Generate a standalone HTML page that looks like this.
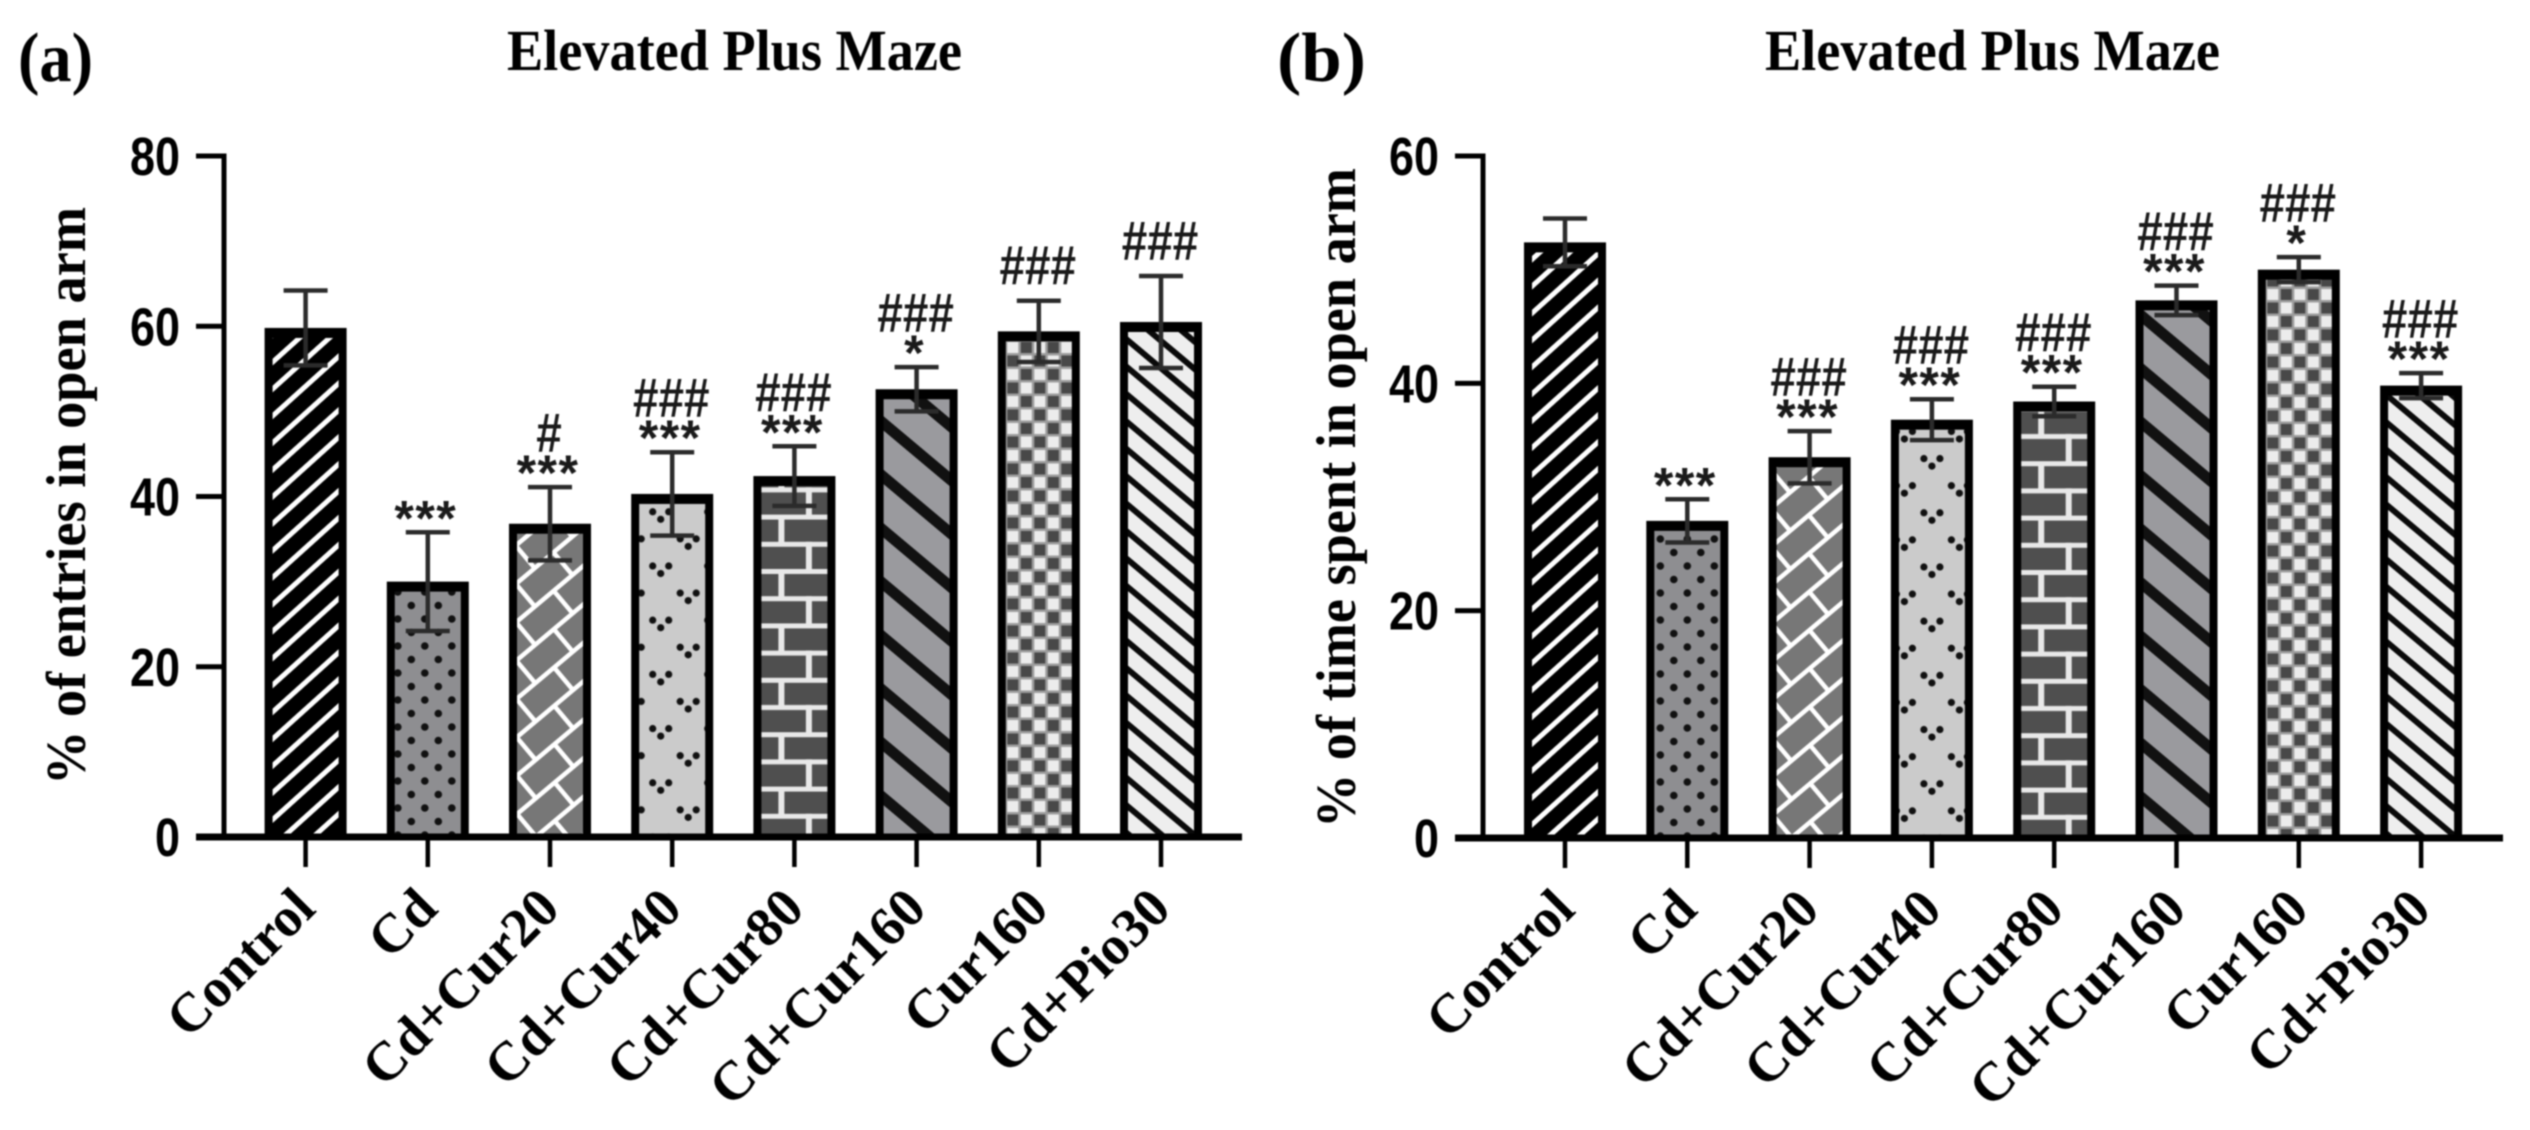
<!DOCTYPE html>
<html lang="en">
<head>
<meta charset="utf-8">
<title>Elevated Plus Maze</title>
<style>
html,body{margin:0;padding:0;background:#fff;width:2530px;height:1130px;overflow:hidden}
svg{display:block;filter:blur(0.7px)}
</style>
</head>
<body>
<svg id="figure" xmlns="http://www.w3.org/2000/svg" width="2530" height="1130" viewBox="0 0 2530 1130">
  <rect width="2530" height="1130" fill="#fff"/>
  <defs id="defs"></defs>
</svg>
<script>
const categories = ['Control','Cd','Cd+Cur20','Cd+Cur40','Cd+Cur80','Cd+Cur160','Cur160','Cd+Pio30'];
const valuesA = [59.8,30.0,36.8,40.3,42.4,52.6,59.4,60.5];
const errorsA = [4.4,5.8,4.3,4.9,3.5,2.6,3.6,5.4];
const starsA  = ['','***','***','***','***','*','',''];
const hashesA = ['','','#','###','###','###','###','###'];
const ticksA  = [0,20,40,60,80];
const valuesB = [52.4,27.9,33.5,36.8,38.4,47.3,50.0,39.8];
const errorsB = [2.1,1.9,2.3,1.8,1.3,1.3,1.1,1.1];
const starsB  = ['','***','***','***','***','***','*','***'];
const hashesB = ['','','###','###','###','###','###','###'];
const ticksB  = [0,20,40,60];

const NS = 'http://www.w3.org/2000/svg';
const svg = document.getElementById('figure');
const defs = document.getElementById('defs');
function make(tag, attrs, parent, text){
  const el = document.createElementNS(NS, tag);
  for (const k in attrs) el.setAttribute(k, attrs[k]);
  if (text !== undefined) el.textContent = text;
  (parent || svg).appendChild(el);
  return el;
}
function slug(s){ return s.toLowerCase().replace(/\+/g,'-'); }

function stripes(p, bg, fg, w){
  make('rect',{width:100,height:100,fill:bg},p);
  make('rect',{x:0,y:0,width:100,height:w,fill:fg},p);
}
function buildPattern(id, kind, cx, y0, panel){
  const p = make('pattern',{id:id,patternUnits:'userSpaceOnUse'},defs);
  function setup(w,h,tf){ p.setAttribute('width',w); p.setAttribute('height',h); p.setAttribute('patternTransform',tf); }
  if (kind === 0){
    setup(100,20,`translate(${cx},${y0+(panel===0?3.4:7.3)}) rotate(-42)`);
    stripes(p,'#000','#fff',5);
  } else if (kind === 1){
    const ox = panel === 0 ? -3 : 0;
    setup(27,27,`translate(${cx+ox},${y0-2})`);
    make('rect',{width:27,height:27,fill:'#8e8e91'},p);
    make('circle',{cx:0,cy:0,r:3.8,fill:'#111'},p);
    make('circle',{cx:27,cy:0,r:3.8,fill:'#111'},p);
    make('circle',{cx:0,cy:27,r:3.8,fill:'#111'},p);
    make('circle',{cx:27,cy:27,r:3.8,fill:'#111'},p);
    make('circle',{cx:13.5,cy:13.5,r:3.8,fill:'#111'},p);
  } else if (kind === 2){
    setup(49,59,`translate(${cx+(panel===0?-6:-10)},${y0-10}) rotate(-40)`);
    make('rect',{width:49,height:59,fill:'#777'},p);
    make('rect',{x:0,y:0,width:49,height:4.5,fill:'#fff'},p);
    make('rect',{x:0,y:29.5,width:49,height:4.5,fill:'#fff'},p);
    make('rect',{x:10,y:0,width:4.5,height:30,fill:'#fff'},p);
    make('rect',{x:34.5,y:29.5,width:4.5,height:30,fill:'#fff'},p);
  } else if (kind === 3){
    const ox = panel === 0 ? -11.5 : 0;
    setup(55,54.2,`translate(${cx+ox-27.5},${y0-10})`);
    make('rect',{width:55,height:54.2,fill:'#cbcbcb'},p);
    [[27.5,13.5],[0,40.6],[55,40.6]].forEach(c=>{
      make('circle',{cx:c[0]-8,cy:c[1]-3.5,r:3.6,fill:'#111'},p);
      make('circle',{cx:c[0]+8,cy:c[1]-3.5,r:3.6,fill:'#111'},p);
      make('circle',{cx:c[0],cy:c[1]+4,r:3.6,fill:'#111'},p);
    });
  } else if (kind === 4){
    setup(55,54.4,`translate(${cx-28},${y0+4})`);
    make('rect',{width:55,height:54.4,fill:'#4f4f4f'},p);
    make('rect',{x:0,y:0,width:55,height:5,fill:'#e8e8e8'},p);
    make('rect',{x:0,y:27.2,width:55,height:5,fill:'#e8e8e8'},p);
    make('rect',{x:12,y:0,width:6,height:28,fill:'#e8e8e8'},p);
    make('rect',{x:39.5,y:27.2,width:6,height:28,fill:'#e8e8e8'},p);
  } else if (kind === 5){
    setup(100,41,`translate(${cx-30},${y0+10}) rotate(40)`);
    stripes(p,'#9a9a9e','#111',11);
  } else if (kind === 6){
    setup(27,27,`translate(${cx-6},${y0+3})`);
    make('rect',{width:27,height:27,fill:'#9c9c9c'},p);
    make('rect',{x:1.5,y:1.5,width:11,height:11,fill:'#484848'},p);
    make('rect',{x:15,y:1.5,width:11,height:11,fill:'#ececec'},p);
    make('rect',{x:1.5,y:15,width:11,height:11,fill:'#ececec'},p);
    make('rect',{x:15,y:15,width:11,height:11,fill:'#484848'},p);
  } else {
    setup(100,21,`translate(${cx-20},${y0+4}) rotate(40)`);
    stripes(p,'#eeeeee','#0a0a0a',6);
  }
}

function drawPanel(cfg){
  const y = v => cfg.y0 - (v / cfg.yMax) * (cfg.y0 - cfg.yTop);
  const x = i => cfg.x0 + i * cfg.step;
  const panelGroup = make('g',{});
  
  

  const panelLabel = make('text',{x:cfg.labelX,y:81,'font-family':'"Liberation Serif",serif','font-weight':'bold','font-size':70,textLength:cfg.labelW,lengthAdjust:'spacingAndGlyphs',fill:'#000'},panelGroup,cfg.label);
  
  

  const title = make('text',{x:cfg.titleX,y:70,'font-family':'"Liberation Serif",serif','font-weight':'bold','font-size':58,textLength:455,lengthAdjust:'spacingAndGlyphs',fill:'#000'},panelGroup,'Elevated Plus Maze');
  
  

  const yTitle = make('text',{transform:`translate(${cfg.yTitleX},${cfg.yTitleC}) rotate(-90)`,'text-anchor':'middle','font-family':'"Liberation Serif",serif','font-weight':'bold','font-size':56,textLength:cfg.yTitleLen,lengthAdjust:'spacingAndGlyphs',fill:'#000'},panelGroup,cfg.yTitle);
  
  

  cfg.values.forEach((v,i)=>{
    const cx = x(i);
    const top = y(v);
    const bar = make('g',{},panelGroup);
    
    
    const pid = 'pat-' + cfg.key + '-' + i;
    buildPattern(pid, i, cx, cfg.y0, cfg.index);
    make('rect',{x:cx-41,y:top,width:82,height:cfg.y0-top,fill:'#000'},bar);
    make('rect',{x:cx-33,y:top+10,width:66,height:Math.max(0,cfg.y0-top-10),fill:`url(#${pid})`},bar);

    const hi = y(v + cfg.errors[i]);
    const lo = y(v - cfg.errors[i]);
    const err = make('g',{stroke:'#2b2b2b','stroke-width':4.5,fill:'none'},panelGroup);
    
    
    make('line',{x1:cx,x2:cx,y1:hi,y2:lo},err);
    make('line',{x1:cx-22,x2:cx+22,y1:hi,y2:hi},err);
    make('line',{x1:cx-22,x2:cx+22,y1:lo,y2:lo},err);

    let level = hi;
    if (cfg.stars[i]){
      level = hi - 20;
      const star = make('text',{x:cx-2,y:level+23,'text-anchor':'middle','font-family':'"Liberation Sans",sans-serif','font-weight':'bold','font-size':50,'letter-spacing':1.5,fill:'#1a1a1a'},panelGroup,cfg.stars[i]);
      
      
    }
    if (cfg.hashes[i]){
      const hy = cfg.stars[i] ? level - 35 : hi - 36;
      const n = cfg.hashes[i].length;
      const hash = make('text',{x:cx-(n*25.5)/2-1,y:hy+20,'font-family':'"Liberation Sans",sans-serif','font-weight':'bold','font-size':56,textLength:n*25.5,lengthAdjust:'spacingAndGlyphs',fill:'#1a1a1a'},panelGroup,cfg.hashes[i]);
      
      
    }

    const tick = make('rect',{x:cx-2.25,y:cfg.y0,width:4.5,height:30,fill:'#000'},panelGroup);
    
    

    const lab = make('text',{transform:`translate(${cx+12},${cfg.y0+74}) rotate(-45)`,'text-anchor':'end','font-family':'"Liberation Serif",serif','font-weight':'bold','font-size':55,fill:'#000'},panelGroup,categories[i]);
    
    
  });

  const yAxis = make('rect',{x:cfg.axisX-2.5,y:cfg.yTop-2.5,width:5,height:cfg.y0-cfg.yTop+2.5,fill:'#000'},panelGroup);
  
  

  const xAxis = make('rect',{x:cfg.axisX-28,y:cfg.y0-3.5,width:cfg.axisEnd-cfg.axisX+28,height:7,fill:'#000'},panelGroup);
  
  

  cfg.ticks.forEach(t=>{
    const ty = y(t);
    const tickMark = make('rect',{x:cfg.axisX-28,y:ty-2.5,width:28,height:5,fill:'#000'},panelGroup);
    
    
    const s = String(t);
    const tickLabel = make('text',{x:cfg.axisX-44-s.length*25,y:ty+19,'font-family':'"Liberation Sans",sans-serif','font-weight':'bold','font-size':54,textLength:s.length*25,lengthAdjust:'spacingAndGlyphs',fill:'#000'},panelGroup,s);
    
    
  });
}

drawPanel({key:'a',index:0,label:'(a)',labelX:18,labelW:75,titleX:507,yTitle:'% of entries in open arm',yTitleX:85,yTitleC:496,yTitleLen:578,
  y0:837,yTop:156,yMax:80,x0:305.6,step:122.2,axisX:224,axisEnd:1242,
  values:valuesA,errors:errorsA,stars:starsA,hashes:hashesA,ticks:ticksA});
drawPanel({key:'b',index:1,label:'(b)',labelX:1277,labelW:89,titleX:1765,yTitle:'% of time spent in open arm',yTitleX:1355,yTitleC:498,yTitleLen:660,
  y0:838,yTop:156,yMax:60,x0:1565,step:122.3,axisX:1483,axisEnd:2503,
  values:valuesB,errors:errorsB,stars:starsB,hashes:hashesB,ticks:ticksB});
</script>
</body>
</html>
